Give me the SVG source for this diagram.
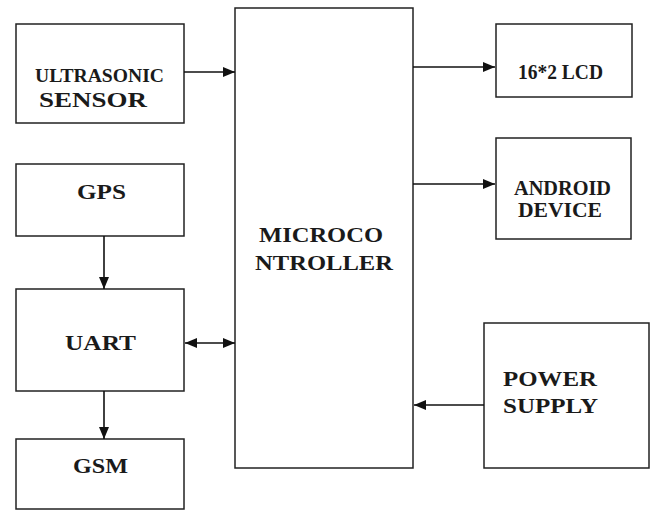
<svg xmlns="http://www.w3.org/2000/svg" width="653" height="511" viewBox="0 0 653 511">
<style>
.box{fill:#fff;stroke:#222;stroke-width:1.5}
.lbl{font-family:"Liberation Serif","Times New Roman",serif;font-weight:bold;font-size:22px;fill:#1a1a1a}
.sm{font-size:20px}
.con{stroke:#111;stroke-width:1.6;fill:none}
</style>
<defs>
<marker id="ah" viewBox="0 0 12 10" refX="12" refY="5" markerWidth="12" markerHeight="10" markerUnits="userSpaceOnUse" orient="auto-start-reverse">
<path d="M0,0 L12,5 L0,10 Z" fill="#111"/>
</marker>
</defs>
<rect width="653" height="511" fill="#fff"/>
<g id="ultrasonic">
<rect class="box" x="16" y="24" width="168" height="99"/>
<text class="lbl" x="35" y="82" textLength="129" lengthAdjust="spacingAndGlyphs" style="font-size:19px">ULTRASONIC</text>
<text class="lbl" x="39" y="107" textLength="108" lengthAdjust="spacingAndGlyphs">SENSOR</text>
</g>
<g id="gps">
<rect class="box" x="16" y="164" width="168" height="72"/>
<text class="lbl" x="77" y="199" textLength="49" lengthAdjust="spacingAndGlyphs">GPS</text>
</g>
<g id="uart">
<rect class="box" x="16" y="289" width="168" height="102"/>
<text class="lbl" x="65" y="350" textLength="71" lengthAdjust="spacingAndGlyphs">UART</text>
</g>
<g id="gsm">
<rect class="box" x="16" y="439" width="168" height="70"/>
<text class="lbl" x="73" y="473" textLength="55" lengthAdjust="spacingAndGlyphs">GSM</text>
</g>
<g id="microcontroller">
<rect class="box" x="235" y="8" width="178" height="460"/>
<text class="lbl" x="259" y="242" textLength="124" lengthAdjust="spacingAndGlyphs">MICROCO</text>
<text class="lbl" x="255" y="270" textLength="138" lengthAdjust="spacingAndGlyphs">NTROLLER</text>
</g>
<g id="lcd">
<rect class="box" x="496" y="24" width="136" height="73"/>
<text class="lbl sm" x="518" y="79" textLength="85" lengthAdjust="spacingAndGlyphs">16*2 LCD</text>
</g>
<g id="android">
<rect class="box" x="496" y="138" width="135" height="101"/>
<text class="lbl sm" x="514" y="195" textLength="97" lengthAdjust="spacingAndGlyphs">ANDROID</text>
<text class="lbl sm" x="518" y="217" textLength="84" lengthAdjust="spacingAndGlyphs">DEVICE</text>
</g>
<g id="power">
<rect class="box" x="484" y="323" width="165" height="145"/>
<text class="lbl" x="503" y="386" textLength="94" lengthAdjust="spacingAndGlyphs">POWER</text>
<text class="lbl" x="503" y="413" textLength="95" lengthAdjust="spacingAndGlyphs">SUPPLY</text>
</g>
<g id="connectors">
<line class="con" x1="184" y1="72" x2="235" y2="72" marker-end="url(#ah)"/>
<line class="con" x1="413" y1="67" x2="495" y2="67" marker-end="url(#ah)"/>
<line class="con" x1="413" y1="184" x2="495" y2="184" marker-end="url(#ah)"/>
<line class="con" x1="104" y1="236" x2="104" y2="289" marker-end="url(#ah)"/>
<line class="con" x1="185" y1="343" x2="235" y2="343" marker-start="url(#ah)" marker-end="url(#ah)"/>
<line class="con" x1="104" y1="391" x2="104" y2="439" marker-end="url(#ah)"/>
<line class="con" x1="484" y1="405" x2="414" y2="405" marker-end="url(#ah)"/>
</g>
</svg>
